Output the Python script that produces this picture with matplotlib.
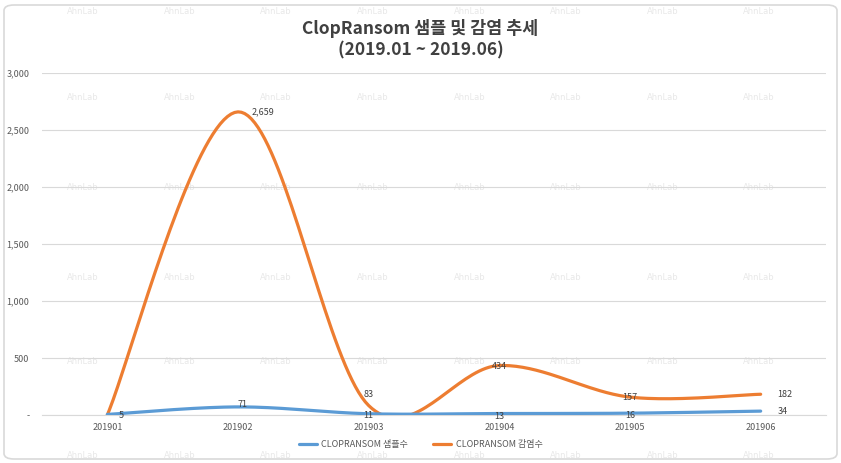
import numpy as np
import matplotlib
matplotlib.use('Agg')
import matplotlib.pyplot as plt
from matplotlib.patches import FancyBboxPatch

plt.rcParams['font.family'] = ['Noto Sans CJK KR', 'DejaVu Sans']

months = ['201901', '201902', '201903', '201904', '201905', '201906']
samples = [5, 71, 11, 13, 16, 34]
infections = [1, 2659, 83, 434, 157, 182]
series_names = ['CLOPRANSOM 샘플수', 'CLOPRANSOM 감염수']
yticks = [0, 500, 1000, 1500, 2000, 2500, 3000]

blue = '#5B9BD5'
orange = '#ED7D31'
text_c = '#595959'


def smooth(y, n=40):
    # excel-like smoothed line: catmull-rom segments as cubic beziers
    y = np.asarray(y, dtype=float)
    x = np.arange(len(y), dtype=float)
    pts = np.column_stack([x, y])
    out = []
    for i in range(len(pts) - 1):
        p0 = pts[max(i - 1, 0)]
        p1 = pts[i]
        p2 = pts[i + 1]
        p3 = pts[min(i + 2, len(pts) - 1)]
        c1 = p1 + (p2 - p0) / 6
        c2 = p2 - (p3 - p1) / 6
        t = np.linspace(0, 1, n)[:, None]
        seg = ((1 - t) ** 3) * p1 + 3 * ((1 - t) ** 2) * t * c1 + 3 * (1 - t) * t ** 2 * c2 + t ** 3 * p2
        out.append(seg if i == 0 else seg[1:])
    out = np.vstack(out)
    return out[:, 0], out[:, 1]


fig = plt.figure(figsize=(8.41, 4.63), dpi=100)
W, H = 841, 463

# rounded frame
frame = FancyBboxPatch((4 / W, 4 / H), 833 / W, 454 / H,
                       boxstyle='round,pad=0,rounding_size=0.012',
                       transform=fig.transFigure, fc='none', ec='#d9d9d9', lw=1.2, zorder=-5)
fig.patches.append(frame)

# AhnLab watermark
for yy in [12, 98, 187, 277, 362, 456]:
    for xx in [83, 180, 276, 373, 470, 566, 663, 759]:
        fig.text(xx / W, 1 - yy / H, 'AhnLab', color='#e8e8e8', fontsize=6,
                 ha='center', va='center', family=['DejaVu Sans'], zorder=-4)

ax = fig.add_axes([42 / W, (463 - 415) / H, (826 - 42) / W, (415 - 73) / H])
ax.set_facecolor('none')

x = np.arange(len(months))
sx, sy = smooth(samples)
ix, iy = smooth(infections)
ax.plot(ix, iy, color=orange, lw=2.3, solid_capstyle='round', zorder=3, label=series_names[1])
ax.plot(sx, sy, color=blue, lw=2.3, solid_capstyle='round', zorder=4, label=series_names[0])

ax.set_xlim(-0.5, 5.5)
ax.set_ylim(0, 3000)
ax.set_yticks(yticks)
ax.set_yticklabels(['-'] + [f'{v:,}' for v in yticks[1:]])
ax.set_xticks(x)
ax.set_xticklabels(months)
ax.tick_params(length=0, labelsize=6.5, colors=text_c, pad=9)
ax.tick_params(axis='x', pad=6)
ax.grid(axis='y', color='#d9d9d9', lw=0.8)
ax.set_axisbelow(True)
for s in ['top', 'right', 'left']:
    ax.spines[s].set_visible(False)
ax.spines['bottom'].set_color('#d9d9d9')

# data labels (offsets in points)
inf_off = [(0, 0), (10, 0), (0, 8), (0, -1), (0, 0), (12, 0)]
inf_ha = ['center', 'left', 'center', 'center', 'center', 'left']
smp_off = [(10, -1), (3, 2), (0, -1), (0, -2), (0, -2), (12, 0)]
smp_ha = ['center', 'center', 'center', 'center', 'center', 'left']
for i in range(len(months)):
    if i > 0:
        ax.annotate(f'{infections[i]:,}', (x[i], infections[i]), xytext=inf_off[i],
                    textcoords='offset points', ha=inf_ha[i], va='center',
                    fontsize=6.5, color='#404040', zorder=6)
    ax.annotate(f'{samples[i]:,}', (x[i], samples[i]), xytext=smp_off[i],
                textcoords='offset points', ha=smp_ha[i], va='center',
                fontsize=6.5, color='#404040', zorder=6)

fig.text(0.5, 1 - 28 / H, 'ClopRansom 샘플 및 감염 추세', ha='center', va='center',
         fontsize=12.5, fontweight='bold', color='#404040')
fig.text(0.5, 1 - 50 / H, '(2019.01 ~ 2019.06)', ha='center', va='center',
         fontsize=12.5, fontweight='bold', color='#404040')

handles, labels = ax.get_legend_handles_labels()
fig.legend(handles[::-1], labels[::-1], loc='center', bbox_to_anchor=(0.5, 1 - 445 / H),
           ncol=2, frameon=False, fontsize=6.5, handlelength=2.0, handletextpad=0.5,
           columnspacing=2.8, labelcolor=text_c)

fig.savefig('out.png', dpi=100)
